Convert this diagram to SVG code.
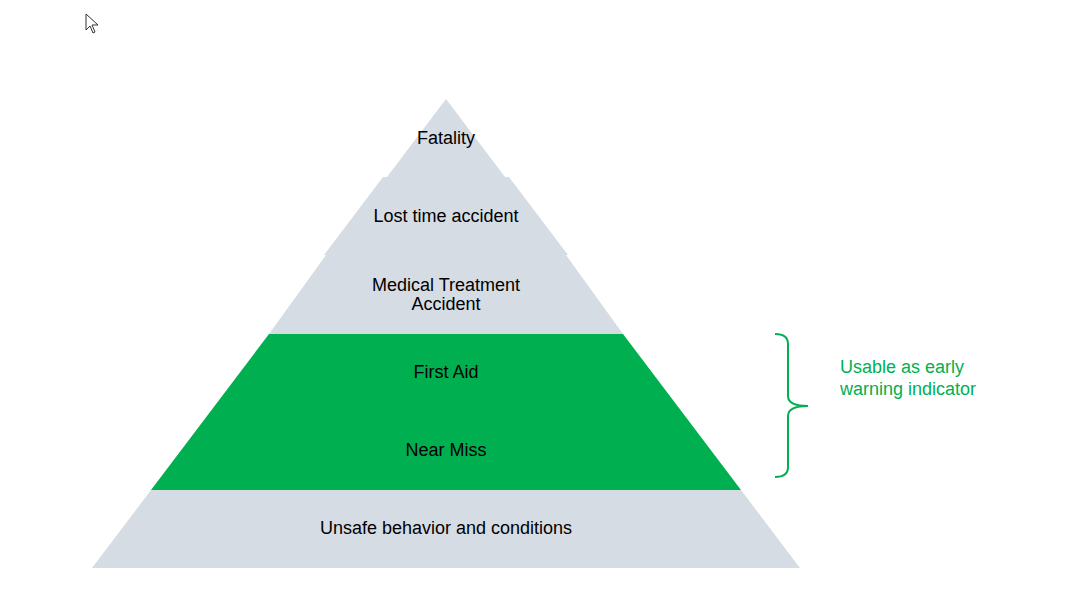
<svg xmlns="http://www.w3.org/2000/svg" width="1066" height="611" viewBox="0 0 1066 611">
<style>
.g{fill:#d6dce4}.t{font-family:"Liberation Sans",Arial,sans-serif;font-size:18px;fill:#000;text-anchor:middle}
.n{font-family:"Liberation Sans",Arial,sans-serif;font-size:18px;fill:#00b050}
</style>
<rect width="1066" height="611" fill="#fff"/>
<path d="M86,14 L86,30 L90,26 L93,33 L95,32 L92,25 L98,25 Z" fill="#fff" stroke="#333" stroke-width="1"/>
<g id="unsafe"><polygon class="g" points="151,490 741,490 800,568 92,568"/><text class="t" x="446" y="534">Unsafe behavior and conditions</text></g>
<g id="green"><polygon fill="#00b050" points="269,334 623,334 741,490 151,490"/>
<text class="t" x="446" y="378">First Aid</text><text class="t" x="446" y="456">Near Miss</text></g>
<g id="medical"><polygon class="g" points="326,255 566,255 623,334 269,334"/><text class="t" x="446" y="291">Medical Treatment</text><text class="t" x="446" y="310">Accident</text></g>
<g id="lost"><polygon class="g" points="383,177 509,177 568,255 324,255"/><text class="t" x="446" y="222">Lost time accident</text></g>
<g id="fatality"><polygon class="g" points="446,99 505,177 387,177"/><text class="t" x="446" y="144">Fatality</text></g>
<g id="connectors"><path d="M775,334 Q788,334 788,344 L788,396 Q788,406 808,406 Q788,406 788,416 L788,467 Q788,477 775,477" fill="none" stroke="#00b050" stroke-width="2"/></g>
<g id="note"><text class="n" x="840" y="373">Usable as early</text><text class="n" x="840" y="395">warning indicator</text></g>
</svg>
